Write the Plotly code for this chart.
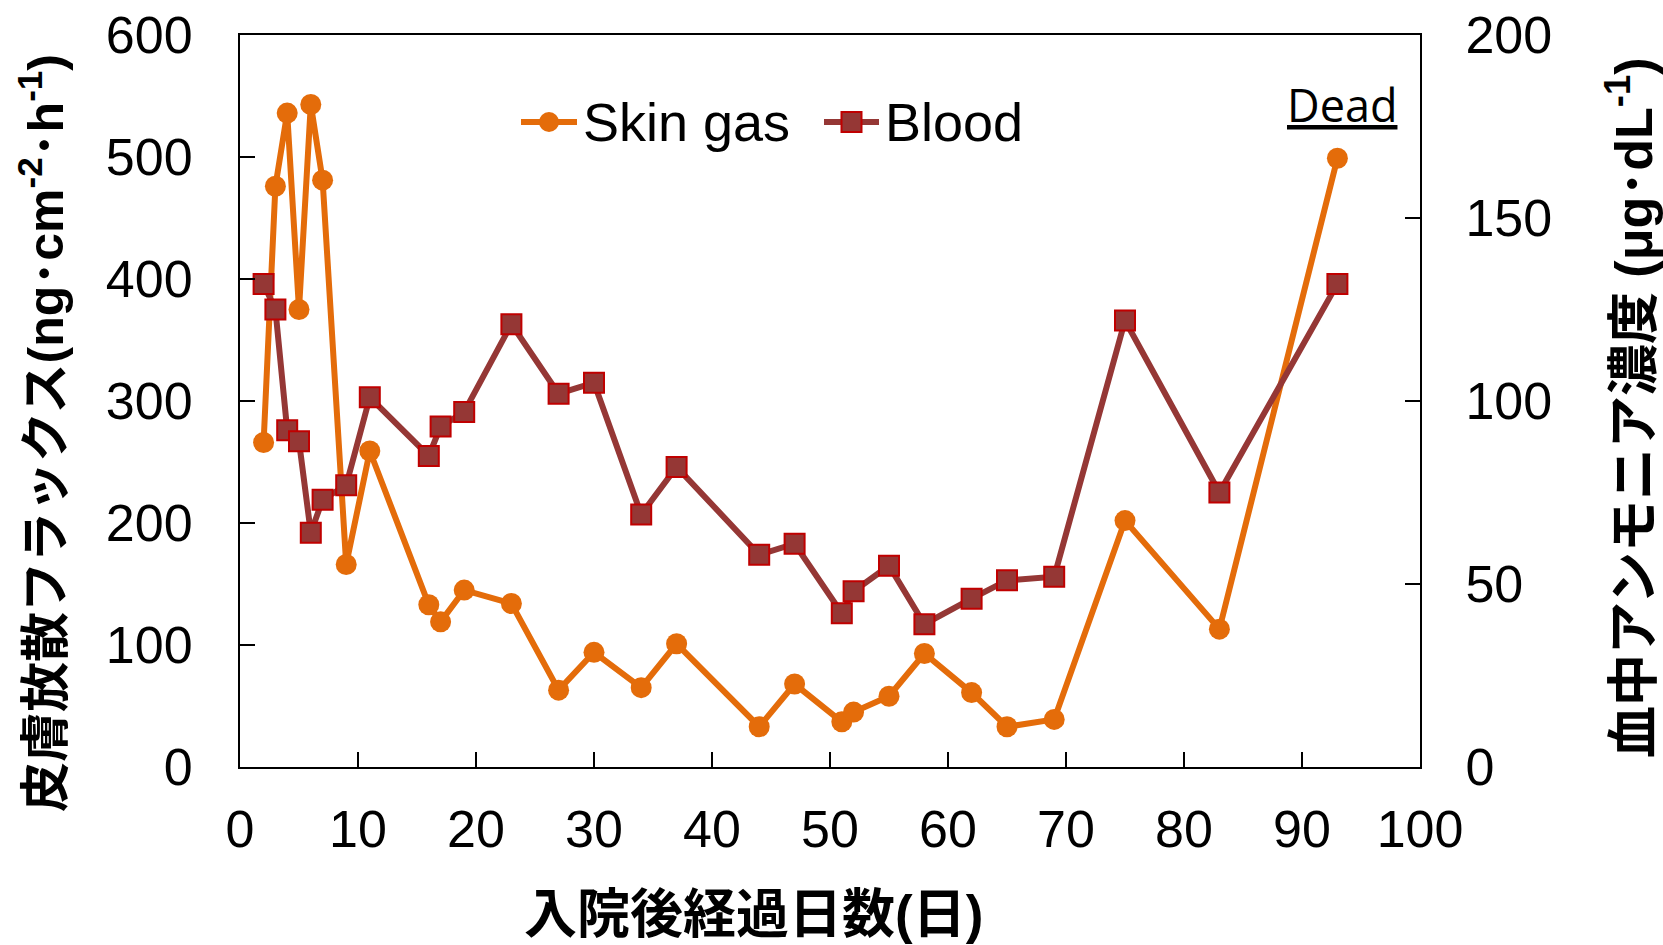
import plotly.graph_objects as go

# Days after admission (same sampling days for both series)
days = [2, 3, 4, 5, 6, 7, 9, 11, 16, 17, 19, 23, 27, 30, 34, 37, 44, 47,
        51, 52, 55, 58, 62, 65, 69, 75, 83, 93]

# Skin gas ammonia flux (ng/cm2/h), left axis
skin_gas = [266, 476, 536, 375, 543, 481, 166, 259, 133, 119, 145, 134, 63, 94,
            65, 101, 33, 68, 37, 45, 58, 93, 61, 33, 39, 202, 113, 499]

# Blood ammonia concentration (ug/dL), right axis
blood = [132, 125, 92, 89, 64, 73, 77, 101, 85, 93, 97, 121, 102, 105, 69, 82,
         58, 61, 42, 48, 55, 39, 46, 51, 52, 122, 75, 132]

series_names = ["Skin gas", "Blood"]

x_ticks = [0, 10, 20, 30, 40, 50, 60, 70, 80, 90, 100]
y_left_ticks = [0, 100, 200, 300, 400, 500, 600]
y_right_ticks = [0, 50, 100, 150, 200]

LATIN = "Liberation Sans, Arial, Noto Sans CJK JP, sans-serif"
CJK = "Liberation Sans, Noto Sans CJK JP, sans-serif"
ORANGE = "#E46C0A"
BROWN = "#953735"
RED_EDGE = "#C00000"

W, H = 1663, 945
ML, MR, MT, MB = 240, 243, 35, 178
PW, PH = W - ML - MR, H - MT - MB


def px_x(px):
    """Horizontal pixel position -> paper fraction."""
    return (px - ML) / PW


def px_y(py):
    """Vertical pixel position (from top) -> paper fraction."""
    return (H - MB - py) / PH


fig = go.Figure()

fig.add_trace(go.Scatter(
    x=days, y=skin_gas, name=series_names[0], mode="lines+markers",
    line=dict(color=ORANGE, width=6),
    marker=dict(symbol="circle", size=21, color=ORANGE),
    yaxis="y", showlegend=False,
))

fig.add_trace(go.Scatter(
    x=days, y=blood, name=series_names[1], mode="lines+markers",
    line=dict(color=BROWN, width=6),
    marker=dict(symbol="square", size=20, color=BROWN,
                line=dict(color=RED_EDGE, width=2)),
    yaxis="y2", showlegend=False,
))

axis_common = dict(
    showline=True, linecolor="black", linewidth=2,
    ticks="inside", ticklen=15, tickwidth=2, tickcolor="black",
    showgrid=False, zeroline=False, automargin=False,
    tickfont=dict(family=LATIN, size=52, color="black"),
)

# Legend keys: a short line with the series marker in the middle, then the name
legend_y = 122
shapes = []
annotations = []
for (x0, x1, color, kind, edge), name in zip(
        [(521, 577, ORANGE, "circle", ORANGE), (824, 879, BROWN, "rect", RED_EDGE)],
        series_names):
    shapes.append(dict(
        type="line", xref="paper", yref="paper",
        x0=px_x(x0), x1=px_x(x1), y0=px_y(legend_y), y1=px_y(legend_y),
        line=dict(color=color, width=6),
    ))
    half = 10
    cx = (x0 + x1) / 2
    shapes.append(dict(
        type=kind, xref="paper", yref="paper",
        x0=px_x(cx - half), x1=px_x(cx + half),
        y0=px_y(legend_y + half), y1=px_y(legend_y - half),
        fillcolor=color, line=dict(color=edge, width=2 if kind == "rect" else 0),
    ))
    annotations.append(dict(
        text=name, xref="paper", yref="paper",
        x=px_x(x1 + 4), y=px_y(legend_y), xanchor="left", yanchor="middle",
        showarrow=False, font=dict(family=LATIN, size=54, color="black"),
    ))

annotations += [
    dict(
        text="<b>入院後経過日数(日)</b>", xref="paper", yref="paper",
        x=px_x(753), y=px_y(914), xanchor="center", yanchor="middle",
        showarrow=False, font=dict(family=CJK, size=53, color="black"),
    ),
    dict(
        text="<b>皮膚放散フラックス(ng･cm<sup>-2</sup>･h<sup>-1</sup>)</b>",
        xref="paper", yref="paper", x=px_x(42), y=px_y(433),
        xanchor="center", yanchor="middle", textangle=-90,
        showarrow=False, font=dict(family=CJK, size=50, color="black"),
    ),
    dict(
        text="<b>血中アンモニア濃度 (μg･dL<sup>-1</sup>)</b>",
        xref="paper", yref="paper", x=px_x(1630), y=px_y(408),
        xanchor="center", yanchor="middle", textangle=-90,
        showarrow=False, font=dict(family=CJK, size=52, color="black"),
    ),
    dict(
        text="<u>Dead</u>", xref="paper", yref="paper",
        x=px_x(1342), y=px_y(104),
        xanchor="center", yanchor="middle",
        showarrow=False, font=dict(family="Open Sans, sans-serif", size=45, color="black"),
    ),
]

fig.update_layout(
    width=W, height=H,
    margin=dict(l=ML, r=MR, t=MT, b=MB, autoexpand=False),
    paper_bgcolor="white", plot_bgcolor="white",
    showlegend=False,
    xaxis=dict(
        range=[0, 100], tickvals=x_ticks, mirror=True,
        ticklabelstandoff=16, **axis_common,
    ),
    yaxis=dict(
        range=[0, 600], tickvals=y_left_ticks,
        ticklabelstandoff=35, **axis_common,
    ),
    yaxis2=dict(
        range=[0, 200], tickvals=y_right_ticks, overlaying="y", side="right",
        ticklabelstandoff=33, **axis_common,
    ),
    shapes=shapes,
    annotations=annotations,
)

fig.write_html("out.html")
